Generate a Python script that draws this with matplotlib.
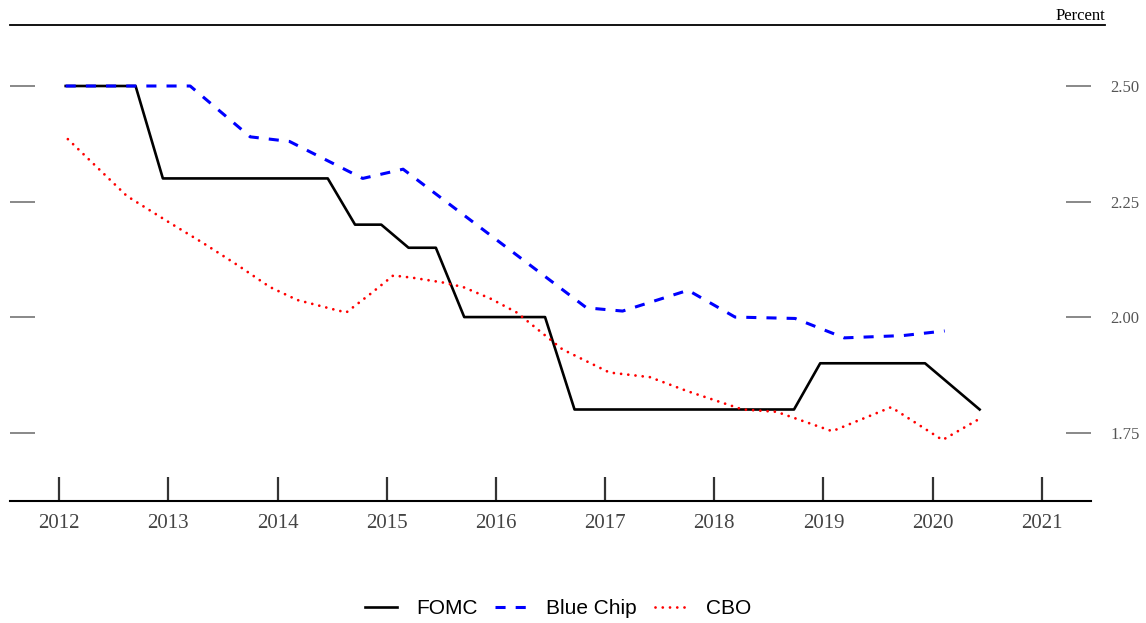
import matplotlib
matplotlib.use("Agg")
import matplotlib.pyplot as plt

# FOMC median longer-run projection (decimal years)
fomc_x = [2012.06, 2012.70, 2012.95, 2014.46, 2014.71, 2014.95, 2015.20, 2015.45,
          2015.71, 2016.45, 2016.72, 2018.73, 2018.97, 2019.93, 2020.43]
fomc_y = [2.50, 2.50, 2.30, 2.30, 2.20, 2.20, 2.15, 2.15,
          2.00, 2.00, 1.80, 1.80, 1.90, 1.90, 1.80]

# Blue Chip consensus
bc_x = [2012.06, 2013.20, 2013.75, 2014.11, 2014.78, 2015.15, 2015.99, 2016.83,
        2017.16, 2017.76, 2018.19, 2018.74, 2019.19, 2019.73, 2020.11]
bc_y = [2.50, 2.50, 2.39, 2.38, 2.30, 2.32, 2.17, 2.02,
        2.013, 2.058, 2.00, 1.997, 1.955, 1.96, 1.97]

# CBO
cbo_x = [2012.08, 2012.62, 2013.02, 2013.32, 2013.63, 2013.93, 2014.18, 2014.54,
         2014.63, 2014.85, 2015.06, 2015.24, 2015.51, 2015.70, 2015.95, 2016.19,
         2016.61, 2017.04, 2017.41, 2017.75, 2018.26, 2018.57, 2019.08, 2019.62,
         2020.09, 2020.43]
cbo_y = [2.385, 2.262, 2.203, 2.16, 2.113, 2.065, 2.037, 2.015,
         2.01, 2.05, 2.09, 2.085, 2.075, 2.065, 2.04, 2.01,
         1.93, 1.88, 1.87, 1.84, 1.80, 1.795, 1.753, 1.805,
         1.734, 1.78]

years = list(range(2012, 2022))
y_ticks = [1.75, 2.00, 2.25, 2.50]

W, H = 1146, 623
fig = plt.figure(figsize=(W / 100, H / 100), dpi=100)
ax = fig.add_axes([10 / W, 1 - 501 / H, (1091 - 10) / W, (501 - 25) / H])

ax.plot(fomc_x, fomc_y, color="black", lw=1.9, label="FOMC")
ax.plot(bc_x, bc_y, color="#0000FF", lw=2.2, linestyle=(0, (3.3, 3.3)), label="Blue Chip")
ax.plot(cbo_x, cbo_y, color="#FF0000", lw=2.0, linestyle=(0, (0.01, 2.6)),
        dash_capstyle="round", label="CBO")

ax.set_xlim(2011.55, 2021.45)
ax.set_ylim(1.602, 2.632)

for s in ["left", "right", "top"]:
    ax.spines[s].set_visible(False)
ax.spines["bottom"].set_linewidth(1.5)
ax.spines["bottom"].set_color("black")

# top rule, runs a bit past the axes on the right
ax.plot([0, (1105 - 10) / (1091 - 10)], [1, 1], transform=ax.transAxes,
        color="black", lw=1.3, clip_on=False)

ax.set_xticks(years)
ax.set_xticklabels([str(y) for y in years])
ax.tick_params(axis="x", direction="in", length=17.5, width=1.6, color="#333333",
               pad=9.5, labelsize=15, labelcolor="#444444")

ax.set_yticks(y_ticks)
ax.set_yticklabels([f"{v:.2f}" for v in y_ticks])
ax.tick_params(axis="y", direction="in", left=True, right=True, labelleft=False,
               labelright=True, length=18, width=1.4, color="#888888",
               pad=14, labelsize=12, labelcolor="#555555")

for lab in ax.get_xticklabels() + ax.get_yticklabels():
    lab.set_family("Liberation Serif")

fig.text(1105 / W, 1 - 20 / H, "Percent", ha="right", va="baseline",
         family="Liberation Serif", fontsize=12)

fig.legend(loc="center", bbox_to_anchor=(558 / W, 1 - 609 / H), ncol=3, frameon=False,
           prop={"family": "Liberation Sans", "size": 15}, handlelength=1.55,
           handletextpad=0.9, columnspacing=0.85)

fig.savefig("out.png", dpi=100)
